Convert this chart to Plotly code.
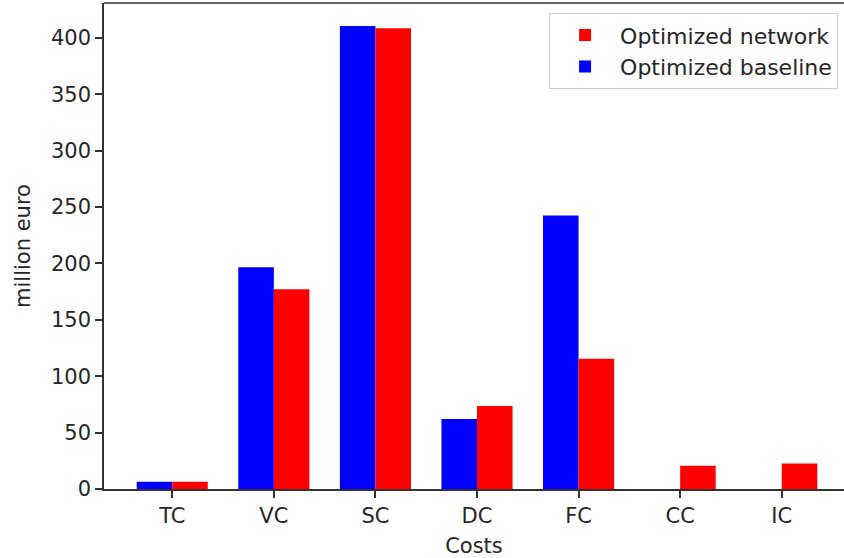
import plotly.graph_objects as go

categories = ["TC", "VC", "SC", "DC", "FC", "CC", "IC"]
baseline_values = [6.5, 196.5, 410.5, 62, 242.5, 0, 0]
network_values = [6.5, 177, 408.5, 73.5, 115.5, 20.5, 22.5]
y_ticks = [0, 50, 100, 150, 200, 250, 300, 350, 400]

FONT = "DejaVu Sans"
TXT = "#262626"
AX = "#333333"

fig = go.Figure()
fig.add_trace(go.Bar(x=categories, y=baseline_values, name="Optimized baseline",
                     marker=dict(color="#0000ff", line=dict(width=0))))
fig.add_trace(go.Bar(x=categories, y=network_values, name="Optimized network",
                     marker=dict(color="#ff0000", line=dict(width=0))))

fig.update_layout(
    width=844, height=558,
    margin=dict(l=104, r=0, t=3, b=69),
    paper_bgcolor="white", plot_bgcolor="white",
    font=dict(family=FONT, size=21, color=TXT),
    barmode="group", bargap=0.3, bargroupgap=0,
    showlegend=True,
    legend=dict(
        x=0.992, y=0.979, xanchor="right", yanchor="top",
        traceorder="reversed",
        bordercolor="#cccccc", borderwidth=1, bgcolor="rgba(255,255,255,0.8)",
        font=dict(family=FONT, size=22, color=TXT),
        itemwidth=60,
    ),
    xaxis=dict(
        type="category", range=[-0.672, 6.613],
        showline=True, linecolor=AX, linewidth=1.5,
        ticks="outside", ticklen=7, tickwidth=1.5, tickcolor=AX,
        showgrid=False, zeroline=False,
        title=dict(text="Costs", standoff=11, font=dict(size=21)),
        tickfont=dict(size=21),
    ),
    yaxis=dict(
        range=[0, 430.8],
        tickvals=y_ticks,
        showline=True, linecolor=AX, linewidth=1.5,
        ticks="outside", ticklen=7, tickwidth=1.5, tickcolor=AX,
        showgrid=False, zeroline=False,
        title=dict(text="million euro", standoff=15, font=dict(size=21)),
        tickfont=dict(size=21),
    ),
    shapes=[dict(type="line", xref="paper", yref="paper", x0=0, x1=1, y0=1, y1=1,
                 line=dict(color=AX, width=1.5))],
)

fig.write_html("out.html")
